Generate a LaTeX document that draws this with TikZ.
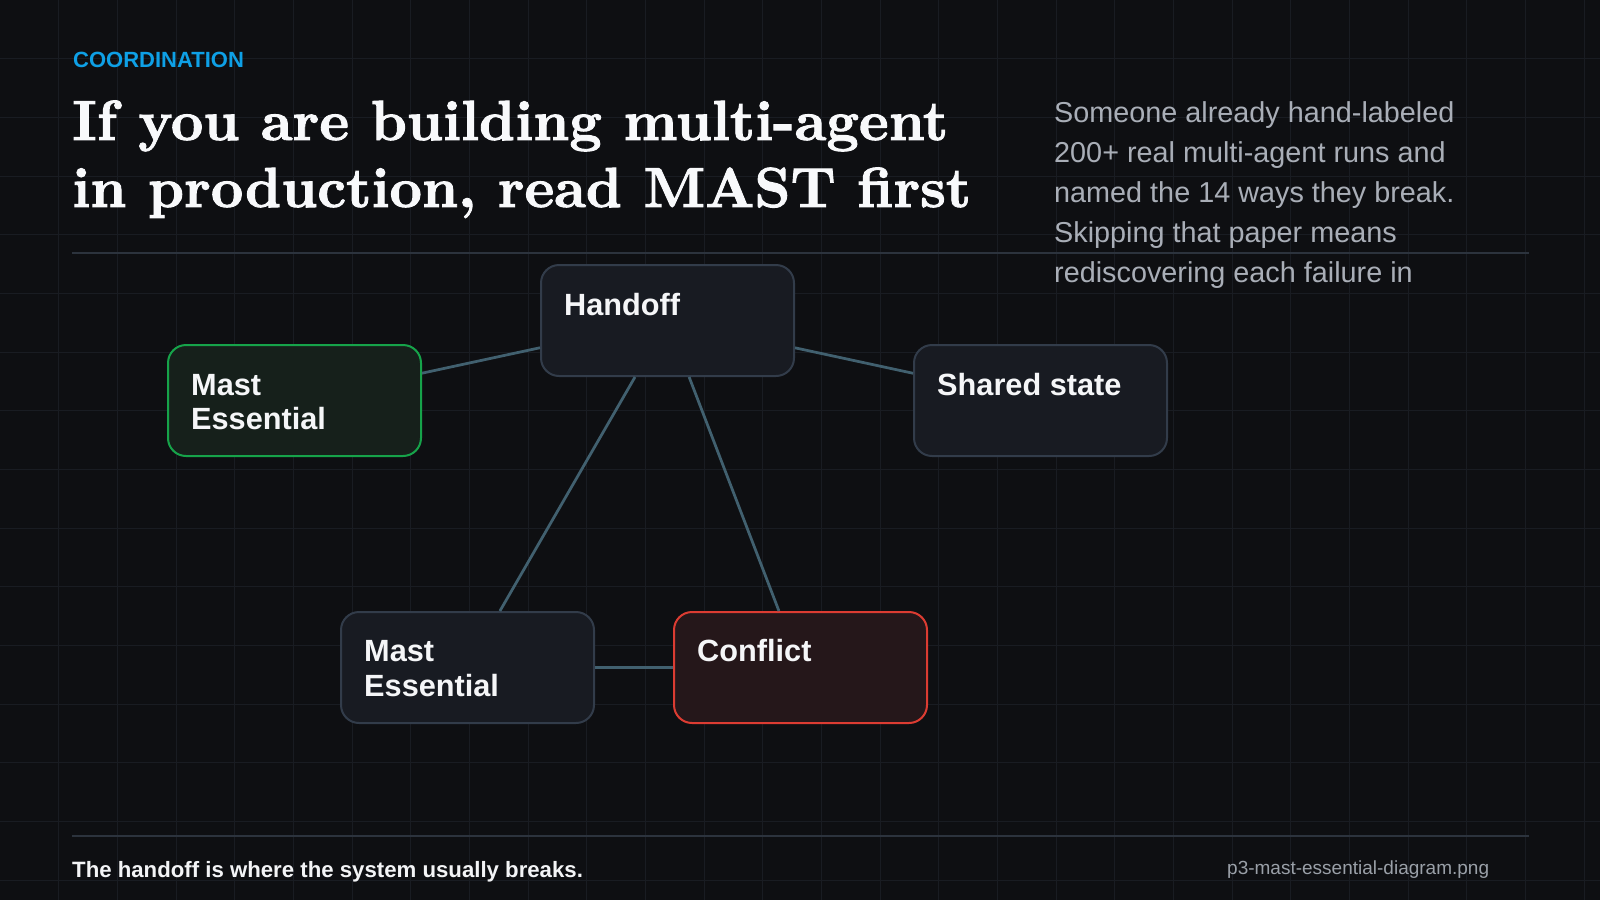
\documentclass[tikz,border=0pt]{standalone}
\usepackage{fontspec}
\newfontfamily\sansf{Liberation Sans}
\newfontfamily\titlef{lmroman10-bold}[Extension=.otf, FakeBold=1.6]
\definecolor{bg}{HTML}{0E0F12}
\definecolor{gridc}{HTML}{191C22}
\definecolor{rulec}{HTML}{2C333D}
\definecolor{kicker}{HTML}{0EA0E6}
\definecolor{titlec}{HTML}{F8F9FB}
\definecolor{parac}{HTML}{A9AEB7}
\definecolor{footc}{HTML}{F3F4F6}
\definecolor{fnamec}{HTML}{9AA0A8}
\definecolor{boxfill}{HTML}{181B22}
\definecolor{boxline}{HTML}{323C4A}
\definecolor{gfill}{HTML}{16201B}
\definecolor{gline}{HTML}{16A34A}
\definecolor{rfill}{HTML}{25171A}
\definecolor{rline}{HTML}{DC3C32}
\definecolor{edgec}{HTML}{41606F}
\definecolor{nodetext}{HTML}{F5F6F8}
\begin{document}
\begin{tikzpicture}[x=1pt,y=-1pt,
  gridline/.style={draw=gridc, line width=1pt},
  rulestyle/.style={draw=rulec, line width=2pt},
  box/.style={draw=boxline, fill=boxfill, line width=2pt, rounded corners=18pt,
    minimum width=253pt, minimum height=111pt, inner sep=0pt},
  greenbox/.style={box, draw=gline, fill=gfill},
  redbox/.style={box, draw=rline, fill=rfill},
  lbl/.style={anchor=base west, inner sep=0pt, text=nodetext,
    font=\sansf\bfseries\fontsize{30.7}{34}\selectfont},
  para/.style={anchor=base west, inner sep=0pt, text=parac,
    font=\sansf\fontsize{28.8}{40}\selectfont},
  titletext/.style={anchor=base west, inner sep=0pt, text=titlec,
    font=\titlef\fontsize{56.5}{67}\selectfont},
  edge/.style={draw=edgec, line width=2.75pt}
]
\useasboundingbox (0,0) rectangle (1600,900);
\fill[bg] (0,0) rectangle (1600,900);
% grid
\foreach \i in {1,...,27} \draw[gridline] ({\i*58.667},0) -- ({\i*58.667},900);
\foreach \j in {1,...,15} \draw[gridline] (0,{\j*58.667}) -- (1600,{\j*58.667});

% header
\node[anchor=base west, inner sep=0pt, text=kicker,
  font=\sansf\bfseries\fontsize{22}{26}\selectfont] (kick) at (73,67) {COORDINATION};
\node[titletext] (title1) at (72,140) {If you are building multi-agent};
\node[titletext] (title2) at (72,207) {in production, read MAST first};

\node[para] (p1) at (1054,122) {Someone already hand-labeled};
\node[para] (p2) at (1054,162) {200+ real multi-agent runs and};
\node[para] (p3) at (1054,202) {named the 14 ways they break.};
\node[para] (p4) at (1054,242) {Skipping that paper means};
\node[para] (p5) at (1054,282) {rediscovering each failure in};

\draw[rulestyle] (72,253) -- (1529,253);
\draw[rulestyle] (72,836) -- (1529,836);

% nodes
\node[box] (hand) at (667.5,320.5) {};
\node[greenbox] (essA) at (294.5,400.5) {};
\node[box] (shared) at (1040.5,400.5) {};
\node[box] (essB) at (467.5,667.5) {};
\node[redbox] (conf) at (800.5,667.5) {};

% connectors
\draw[edge] (essA) -- (hand);
\draw[edge] (hand) -- (shared);
\draw[edge] (hand) -- (essB);
\draw[edge] (hand) -- (conf);
\draw[edge] (essB) -- (conf);

% node labels
\node[lbl] (handT) at ([xshift=24pt,yshift=-51pt]hand.north west) {Handoff};
\node[lbl] (essAT1) at ([xshift=24pt,yshift=-51pt]essA.north west) {Mast};
\node[lbl] (essAT2) at ([xshift=24pt,yshift=-85pt]essA.north west) {Essential};
\node[lbl] (sharedT) at ([xshift=24pt,yshift=-51pt]shared.north west) {Shared state};
\node[lbl] (essBT1) at ([xshift=24pt,yshift=-50pt]essB.north west) {Mast};
\node[lbl] (essBT2) at ([xshift=24pt,yshift=-85pt]essB.north west) {Essential};
\node[lbl] (confT) at ([xshift=24pt,yshift=-50pt]conf.north west) {Conflict};

% footer
\node[anchor=base west, inner sep=0pt, text=footc,
  font=\sansf\bfseries\fontsize{22.2}{26}\selectfont] (foot) at (72,877) {The handoff is where the system usually breaks.};
\node[anchor=base west, inner sep=0pt, text=fnamec,
  font=\sansf\fontsize{19}{22}\selectfont] (fname) at (1227,874) {p3-mast-essential-diagram.png};
\end{tikzpicture}
\end{document}
